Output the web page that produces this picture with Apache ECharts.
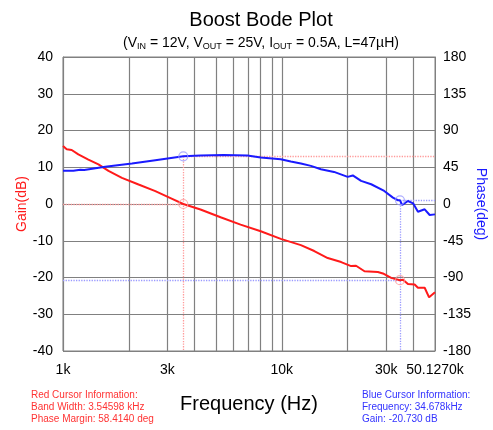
<!DOCTYPE html>
<html>
<head>
<meta charset="utf-8">
<script src="https://cdn.jsdelivr.net/npm/echarts@6/dist/echarts.min.js"></script>
<style>html,body{margin:0;padding:0;background:#fff}#c{width:493px;height:430px}</style>
</head>
<body>
<div id="c"></div>
<script>
// ---- data (frequency in Hz) ----
const gainFreq = [1000,1040,1096,1175,1306,1452,1614,1859,2215,2642,3153,3546,4249,5250,6480,8010,9890,12220,14070,16210,18670,20730,21840,23870,27480,28970,31620,34678,35800,37700,40460,41900,44970,47100,50127];
const gainDb   = [15.8,14.9,14.7,13.5,12.1,10.8,9.0,7.1,5.3,3.5,1.4,0.0,-1.5,-3.6,-5.6,-7.4,-9.5,-11.2,-12.8,-14.7,-15.8,-16.9,-16.8,-18.3,-18.5,-18.9,-20.1,-20.73,-20.6,-21.8,-21.9,-22.8,-22.8,-25.4,-24.0];
const phaseFreq = [1000,1115,1200,1250,1559,2066,2642,3546,4249,5420,6960,8010,9890,10990,12220,13580,15090,17320,20000,21100,23030,25600,29380,32200,33950,34678,35500,37700,39800,41900,44970,47400,50127];
const phaseDeg  = [40.6,40.6,42.0,41.5,45.7,49.5,53.6,58.4,59.4,59.9,59.4,56.9,54.9,52.0,49.5,46.7,42.6,39.3,33.2,35.0,28.3,24.2,16.0,7.8,4.6,4.5,-1.2,3.7,0.8,-9.5,-6.5,-13.5,-12.7];
const xLabelValues = [1000,3000,10000,30000,50127];
const xLabelTexts  = ['1k','3k','10k','30k','50.1270k'];
const xGridValues = [1000,2000,3000,4000,5000,6000,7000,8000,9000,10000,20000,30000,40000];
const fMin = 1000, fMax = 50127;
// cursors
const redCursor  = {freq: 3545.98, gain: 0, phase: 58.414};
const blueCursor = {freq: 34678, gain: -20.73, phase: 4.5};
const redInfo  = ['Red Cursor Information:', 'Band Width: 3.54598 kHz', 'Phase Margin: 58.4140 deg'];
const blueInfo = ['Blue Cursor Information:', 'Frequency: 34.678kHz', 'Gain: -20.730 dB'];

const FONT = '"Liberation Sans", Arial, sans-serif';
const gainData = gainFreq.map((f,i)=>[f,gainDb[i]]);
const phaseData = phaseFreq.map((f,i)=>[f,phaseDeg[i]]);
const RED = '#ff1a1a', BLUE = '#1a1aff', LRED = '#ff9a9a', LBLUE = '#9a9aff';
const GRID = '#808080';

const chart = echarts.init(document.getElementById('c'), null, {renderer:'canvas'});
chart.setOption({
  animation: false,
  backgroundColor: '#fff',
  title: {
    text: 'Boost Bode Plot',
    subtext: '(V{s|IN} = 12V, V{s|OUT} = 25V, I{s|OUT} = 0.5A, L=47µH)',
    left: 256, textAlign: 'center', top: 5, itemGap: 4,
    textStyle: {fontFamily: FONT, fontSize: 20, fontWeight: 'normal', color: '#000'},
    subtextStyle: {fontFamily: FONT, fontSize: 14, color: '#000', lineHeight: 18,
      rich: {s: {fontFamily: FONT, fontSize: 9, color: '#000', padding: [7,0,0,0], lineHeight: 18}}}
  },
  grid: {left: 63, right: 58, top: 57, bottom: 79, show: true, borderColor: GRID, borderWidth: 1,
    outerBoundsMode: 'none', containLabel: false},
  xAxis: {
    type: 'log', logBase: 10, min: fMin, max: fMax,
    name: 'Frequency (Hz)', nameLocation: 'middle', nameGap: 43,
    nameTextStyle: {fontFamily: FONT, fontSize: 20, color: '#000'},
    axisLine: {show: true, lineStyle: {color: GRID}},
    axisTick: {show: false, customValues: xGridValues},
    splitLine: {show: true, lineStyle: {color: GRID, width: 1.2}},
    axisLabel: {customValues: xLabelValues, margin: 12, fontFamily: FONT, fontSize: 14, color: '#000',
      formatter: v => { const i = xLabelValues.findIndex(x => Math.abs(x - v) < 1); return i >= 0 ? xLabelTexts[i] : ''; }}
  },
  yAxis: [{
    type: 'value', min: -40, max: 40, interval: 10,
    name: 'Gain(dB)', nameLocation: 'middle', nameGap: 34, nameRotate: 90, nameMoveOverlap: false,
    nameTextStyle: {fontFamily: FONT, fontSize: 14, color: RED},
    axisLine: {show: true, lineStyle: {color: GRID}},
    axisTick: {show: false},
    splitLine: {show: true, lineStyle: {color: GRID, width: 1.2}},
    axisLabel: {margin: 10, fontFamily: FONT, fontSize: 14, color: '#000'}
  }, {
    type: 'value', min: -180, max: 180, interval: 45, position: 'right',
    name: 'Phase(deg)', nameLocation: 'middle', nameGap: 39, nameRotate: -90, nameMoveOverlap: false,
    nameTextStyle: {fontFamily: FONT, fontSize: 14, color: BLUE},
    axisLine: {show: true, lineStyle: {color: GRID}},
    axisTick: {show: false},
    splitLine: {show: false},
    axisLabel: {margin: 8, fontFamily: FONT, fontSize: 14, color: '#000'}
  }],
  series: [{
    name: 'Gain', type: 'line', data: gainData, yAxisIndex: 0, showSymbol: false,
    lineStyle: {color: RED, width: 2}, itemStyle: {color: RED}, z: 5,
    markLine: {silent: true, symbol: 'none', label: {show: false}, animation: false,
      data: [
        [{coord: [fMin, redCursor.gain], lineStyle: {color: LRED, type: 'dotted', width: 1.3}}, {coord: [redCursor.freq, redCursor.gain]}],
        [{coord: [fMin, blueCursor.gain], lineStyle: {color: LBLUE, type: 'dotted', width: 1.3}}, {coord: [blueCursor.freq, blueCursor.gain]}]
      ]}
  }, {
    name: 'Phase', type: 'line', data: phaseData, yAxisIndex: 1, showSymbol: false,
    lineStyle: {color: BLUE, width: 2}, itemStyle: {color: BLUE}, z: 5,
    markLine: {silent: true, symbol: 'none', label: {show: false}, animation: false,
      data: [
        [{coord: [redCursor.freq, redCursor.phase], lineStyle: {color: LRED, type: 'dotted', width: 1.3}}, {coord: [redCursor.freq, -180]}],
        [{coord: [redCursor.freq, redCursor.phase], lineStyle: {color: LRED, type: 'dotted', width: 1.3}}, {coord: [fMax, redCursor.phase]}],
        [{coord: [blueCursor.freq, blueCursor.phase], lineStyle: {color: LBLUE, type: 'dotted', width: 1.3}}, {coord: [blueCursor.freq, -180]}],
        [{coord: [blueCursor.freq, blueCursor.phase], lineStyle: {color: LBLUE, type: 'dotted', width: 1.3}}, {coord: [fMax, blueCursor.phase]}]
      ]}
  }, {
    name: 'GainCursor', type: 'scatter', yAxisIndex: 0, symbol: 'circle', symbolSize: 9, z: 6,
    itemStyle: {color: 'rgba(0,0,0,0)', borderColor: LRED, borderWidth: 1.2},
    data: [[redCursor.freq, redCursor.gain], [blueCursor.freq, blueCursor.gain]]
  }, {
    name: 'PhaseCursor', type: 'scatter', yAxisIndex: 1, symbol: 'circle', symbolSize: 9, z: 6,
    itemStyle: {color: 'rgba(0,0,0,0)', borderColor: LBLUE, borderWidth: 1.2},
    data: [[redCursor.freq, redCursor.phase], [blueCursor.freq, blueCursor.phase]]
  }],
  graphic: [{
    type: 'text', left: 31, top: 389,
    style: {text: redInfo.join('\n'), fill: '#ff3333', font: '10px ' + FONT, lineHeight: 12}
  }, {
    type: 'text', left: 362, top: 389,
    style: {text: blueInfo.join('\n'), fill: '#3333ff', font: '10px ' + FONT, lineHeight: 12}
  }]
});
</script>
</body>
</html>
